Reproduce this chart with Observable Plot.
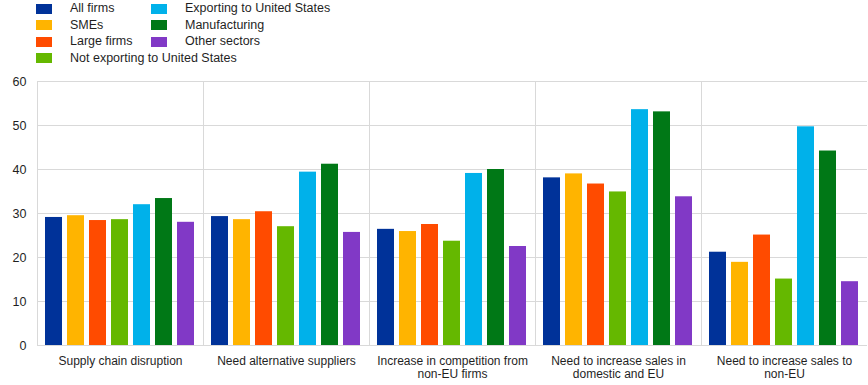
<!DOCTYPE html>
<html><head><meta charset="utf-8">
<script src="https://cdn.jsdelivr.net/npm/d3@7"></script>
<script src="https://cdn.jsdelivr.net/npm/@observablehq/plot@0.6"></script>
<style>
body{margin:0;background:#fff;font-family:"Liberation Sans",Arial,sans-serif;}
#legend{position:relative;width:868px;height:70px;}
.item{position:absolute;font-size:12.5px;color:#1f1f1f;line-height:14px;white-space:nowrap;}
.sw{position:absolute;width:16px;height:10px;}
#chart svg{display:block;}
</style></head><body>
<div id="legend"></div><div id="chart"></div>
<script>
const categories = ["Supply chain disruption", "Need alternative suppliers", "Increase in competition from non-EU firms", "Need to increase sales in domestic and EU", "Need to increase sales to non-EU"];
const categoryLabels = ["Supply chain disruption", "Need alternative suppliers", "Increase in competition from\nnon-EU firms", "Need to increase sales in\ndomestic and EU", "Need to increase sales to\nnon-EU"];
const series = ["All firms", "SMEs", "Large firms", "Not exporting to United States", "Exporting to United States", "Manufacturing", "Other sectors"];
const colors = ["#003299", "#ffb400", "#ff4b00", "#65b800", "#00b1ea", "#007816", "#8139c6"];
const yTicks = [0, 10, 20, 30, 40, 50, 60];

const allFirms      = [29.1, 29.3, 26.4, 38.1, 21.2];
const smes          = [29.5, 28.6, 25.9, 39.0, 18.9];
const largeFirms    = [28.4, 30.4, 27.5, 36.7, 25.1];
const notExporting  = [28.6, 27.0, 23.7, 34.9, 15.1];
const exporting     = [32.0, 39.4, 39.1, 53.6, 49.7];
const manufacturing = [33.4, 41.2, 40.0, 53.1, 44.2];
const otherSectors  = [28.0, 25.7, 22.5, 33.8, 14.5];

const seriesValues = [allFirms, smes, largeFirms, notExporting, exporting, manufacturing, otherSectors];
const data = [];
categories.forEach((c, i) => series.forEach((s, j) => data.push({category: c, series: s, value: seriesValues[j][i]})));
const labelMap = new Map(categories.map((c, i) => [c, categoryLabels[i]]));

// legend
const legend = document.getElementById("legend");
const colX = [[36, 70], [151, 185]];
const rowY = [8.5, 25, 41.7, 58];
series.forEach((s, i) => {
  const col = i < 4 ? 0 : 1, row = i < 4 ? i : i - 4;
  const sw = document.createElement("div");
  sw.className = "sw";
  sw.style.left = colX[col][0] + "px";
  sw.style.top = (rowY[row] - 5) + "px";
  sw.style.background = colors[i];
  legend.appendChild(sw);
  const t = document.createElement("div");
  t.className = "item";
  t.style.left = colX[col][1] + "px";
  t.style.top = (rowY[row] - 7.5) + "px";
  t.textContent = s;
  legend.appendChild(t);
});

const chart = Plot.plot({
  width: 868,
  height: 315,
  marginLeft: 36,
  marginRight: 0,
  marginTop: 11,
  marginBottom: 40,
  style: {fontFamily: '"Liberation Sans", Arial, sans-serif', fontSize: "12px", color: "#1f1f1f", background: "#fff"},
  fx: {domain: categories, padding: 0, label: null},
  x: {domain: series, padding: 0.22, axis: null},
  y: {domain: [0, 60], label: null},
  color: {domain: series, range: colors},
  marks: [
    Plot.gridY(yTicks, {stroke: "#d9d9d9", strokeOpacity: 1, strokeWidth: 1}),
    Plot.frame({anchor: "left", stroke: "#d9d9d9", strokeWidth: 1}),
    Plot.barY(data, {fx: "category", x: "series", y: "value", fill: "series"}),
    Plot.axisY(yTicks, {tickSize: 0, tickPadding: 11, label: null, fontSize: 12.5, fill: "#1f1f1f"}),
    Plot.axisFx({anchor: "bottom", tickSize: 0, tickPadding: 10, label: null, tickFormat: d => labelMap.get(d), lineHeight: 1.12, fontSize: 12, fill: "#1f1f1f"})
  ]
});
document.getElementById("chart").appendChild(chart);
</script>
</body></html>
